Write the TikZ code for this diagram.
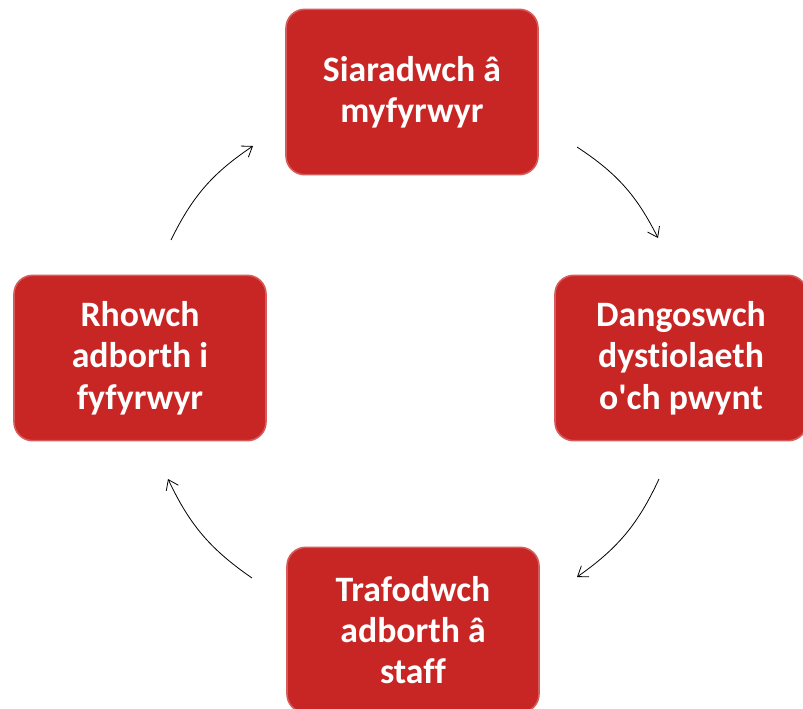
\documentclass[tikz,border=0pt]{standalone}
\usepackage{fontspec}
\setmainfont{Carlito}[Ligatures=NoCommon]
\usetikzlibrary{arrows.meta, positioning}
\definecolor{stagered}{RGB}{200,38,36}

\begin{document}
\begin{tikzpicture}[x=0.75pt, y=-0.75pt]
    % Define styles
    \tikzstyle{stage} = [rectangle, rounded corners=14pt, draw=stagered!75!white, line width=1.2pt, fill=stagered, text=white, font=\fontsize{26.8}{31}\selectfont\bfseries, align=center, minimum width=189pt, minimum height=124pt, inner sep=2pt]
    \tikzstyle{flow} = [draw, line width=0.6pt, -{Straight Barb[length=7pt, width=10pt]}]

    \useasboundingbox (0,0) rectangle (803,708);

    % Stages of the cycle
    \node[stage] (talk) at (412,92) {Siaradwch â\\myfyrwyr};
    \node[stage] (show) at (681,358) {Dangoswch\\dystiolaeth\\o\textquotesingle ch pwynt};
    \node[stage] (discuss) at (413,630) {Trafodwch\\adborth â\\staff};
    \node[stage] (give) at (140,358) {Rhowch\\adborth i\\fyfyrwyr};

    % Arrow ends
    \coordinate (talkout) at (577,147);
    \coordinate (showin) at (658,238);
    \coordinate (showout) at (659,479);
    \coordinate (discussin) at (577,577);
    \coordinate (discussout) at (252,578);
    \coordinate (givein) at (168,479);
    \coordinate (giveout) at (171,240);
    \coordinate (talkin) at (253,146);

    % Arrows round the cycle
    \draw[flow] (talkout) to[bend left=15] (showin);
    \draw[flow] (showout) to[bend left=15] (discussin);
    \draw[flow] (discussout) to[bend left=15] (givein);
    \draw[flow] (giveout) to[bend left=15] (talkin);
\end{tikzpicture}
\end{document}
